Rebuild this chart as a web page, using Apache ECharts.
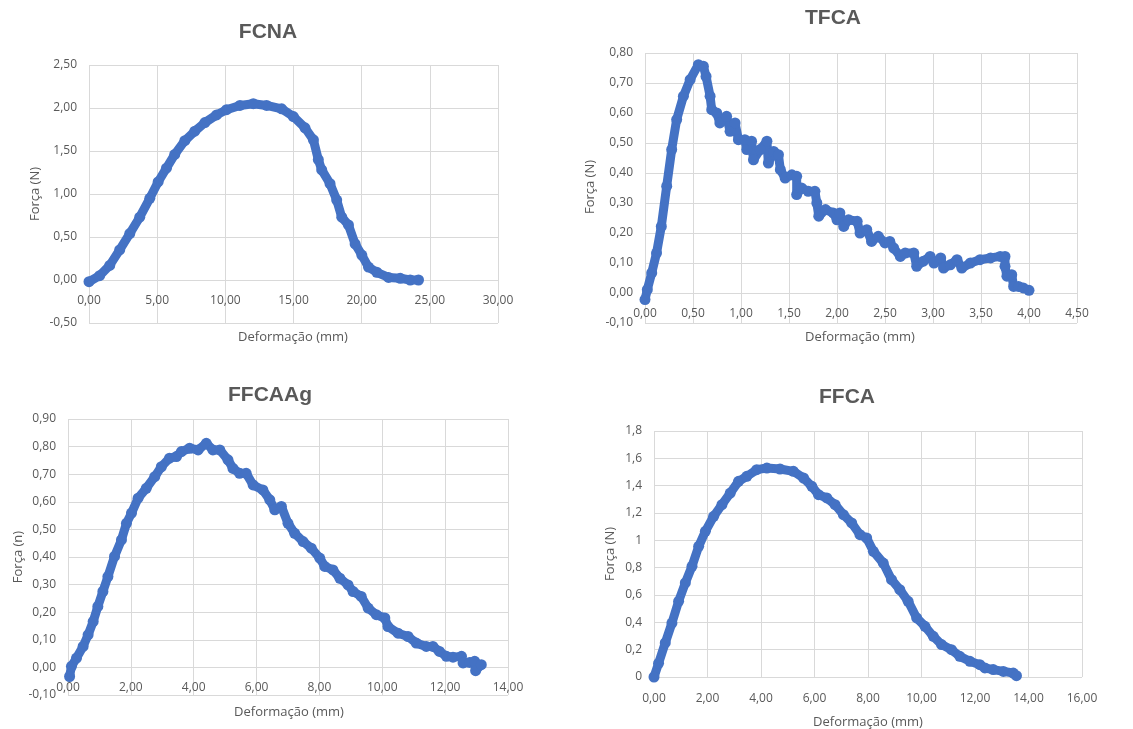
<!DOCTYPE html>
<html>
<head>
<meta charset="utf-8">
<script src="https://cdn.jsdelivr.net/npm/echarts@6/dist/echarts.min.js"></script>
<style>
  html, body { margin: 0; padding: 0; background: #fff; }
  #main { width: 1133px; height: 729px; }
</style>
</head>
<body>
<div id="main"></div>
<script>
// FCNA
var fcnaX = [0, 0.78, 1.52, 2.25, 2.99, 3.72, 4.46, 5.07, 5.68, 6.29, 7.03, 7.76, 8.5, 9.36, 10.09, 11.07, 12.05, 13.03, 14.13, 14.99, 15.84, 16.46, 16.82, 17.07, 17.68, 18.17, 18.54, 19.03, 19.52, 20.01, 20.5, 21.11, 21.97, 22.83, 23.56, 24.17];
var fcnaY = [-0.02, 0.05, 0.17, 0.35, 0.54, 0.73, 0.95, 1.14, 1.3, 1.46, 1.62, 1.73, 1.83, 1.92, 1.98, 2.03, 2.05, 2.03, 1.99, 1.9, 1.77, 1.63, 1.4, 1.28, 1.12, 0.93, 0.73, 0.64, 0.42, 0.29, 0.15, 0.09, 0.03, 0.02, 0, 0];

// TFCA
var tfcaX = [0, 0.024, 0.07, 0.12, 0.17, 0.226, 0.278, 0.33, 0.4, 0.47, 0.556, 0.608, 0.636, 0.678, 0.695, 0.747, 0.78, 0.85, 0.886, 0.938, 0.973, 1.04, 1.06, 1.11, 1.13, 1.2, 1.27, 1.285, 1.34, 1.39, 1.41, 1.46, 1.53, 1.58, 1.58, 1.63, 1.7, 1.77, 1.79, 1.81, 1.88, 1.96, 2.0, 2.03, 2.07, 2.12, 2.21, 2.24, 2.31, 2.36, 2.43, 2.5, 2.55, 2.59, 2.66, 2.71, 2.8, 2.83, 2.9, 2.97, 3.01, 3.08, 3.11, 3.18, 3.25, 3.3, 3.39, 3.49, 3.6, 3.7, 3.75, 3.75, 3.77, 3.82, 3.84, 3.89, 3.94, 4.0];
var tfcaY = [-0.022, 0.011, 0.067, 0.133, 0.222, 0.356, 0.478, 0.578, 0.656, 0.711, 0.761, 0.756, 0.722, 0.656, 0.611, 0.6, 0.567, 0.589, 0.539, 0.567, 0.511, 0.511, 0.478, 0.506, 0.444, 0.478, 0.506, 0.433, 0.472, 0.461, 0.411, 0.383, 0.394, 0.389, 0.328, 0.35, 0.339, 0.339, 0.3, 0.256, 0.278, 0.267, 0.244, 0.267, 0.222, 0.244, 0.239, 0.2, 0.211, 0.172, 0.189, 0.167, 0.172, 0.15, 0.122, 0.133, 0.133, 0.089, 0.106, 0.122, 0.1, 0.117, 0.083, 0.094, 0.111, 0.083, 0.1, 0.111, 0.117, 0.122, 0.122, 0.089, 0.056, 0.061, 0.022, 0.022, 0.017, 0.009];

// FFCAAg
var ffcaagX = [0.05, 0.11, 0.27, 0.48, 0.64, 0.8, 0.95, 1.11, 1.27, 1.48, 1.7, 1.86, 2.02, 2.23, 2.49, 2.76, 2.97, 3.23, 3.45, 3.61, 3.87, 4.14, 4.4, 4.61, 4.83, 5.09, 5.25, 5.46, 5.67, 5.89, 6.2, 6.42, 6.58, 6.79, 7.0, 7.21, 7.48, 7.74, 8.01, 8.17, 8.43, 8.65, 8.91, 9.07, 9.33, 9.55, 9.81, 10.08, 10.18, 10.5, 10.82, 11.08, 11.4, 11.61, 11.82, 12.04, 12.25, 12.52, 12.57, 12.78, 12.94, 12.97, 13.15];
var ffcaagY = [-0.033, 0.004, 0.034, 0.076, 0.118, 0.166, 0.221, 0.275, 0.329, 0.402, 0.462, 0.522, 0.559, 0.613, 0.649, 0.691, 0.727, 0.758, 0.764, 0.782, 0.794, 0.788, 0.812, 0.788, 0.788, 0.752, 0.721, 0.703, 0.703, 0.661, 0.643, 0.607, 0.571, 0.583, 0.522, 0.486, 0.456, 0.432, 0.396, 0.366, 0.353, 0.323, 0.299, 0.275, 0.257, 0.215, 0.191, 0.179, 0.148, 0.124, 0.112, 0.088, 0.076, 0.076, 0.058, 0.04, 0.037, 0.04, 0.016, 0.018, 0.022, -0.012, 0.01];

// FFCA
var ffcaX = [0, 0.17, 0.42, 0.67, 0.92, 1.17, 1.42, 1.67, 1.92, 2.23, 2.54, 2.85, 3.16, 3.47, 3.84, 4.22, 4.71, 5.21, 5.59, 5.9, 6.15, 6.46, 6.77, 7.08, 7.39, 7.7, 7.95, 8.2, 8.57, 8.88, 9.19, 9.5, 9.82, 10.13, 10.44, 10.75, 11.12, 11.43, 11.81, 12.18, 12.37, 12.68, 13.06, 13.43, 13.55];
var ffcaY = [0, 0.1, 0.249, 0.395, 0.554, 0.688, 0.81, 0.956, 1.066, 1.176, 1.261, 1.346, 1.432, 1.468, 1.517, 1.529, 1.522, 1.505, 1.456, 1.395, 1.334, 1.31, 1.261, 1.188, 1.127, 1.041, 1.017, 0.92, 0.834, 0.712, 0.639, 0.554, 0.432, 0.371, 0.298, 0.237, 0.2, 0.151, 0.115, 0.09, 0.066, 0.054, 0.041, 0.029, 0.01];

var titles = ['FCNA', 'TFCA', 'FFCAAg', 'FFCA'];
var yNames = ['Força (N)', 'Força (N)', 'Força (n)', 'Força (N)'];
var xName = 'Deformação (mm)';

var blue = '#4472C4';
var txt = '#595959';
var gridColor = '#d9d9d9';
var font = 'Open Sans';

function pairs(xs, ys) {
  var out = [];
  for (var i = 0; i < xs.length; i++) {
    out.push([xs[i], ys[i]]);
  }
  return out;
}

function fixed(d) {
  return function (v) { return v.toFixed(d).replace('.', ','); };
}

// Excel "General" number format
function general(v) {
  return String(+v.toFixed(1)).replace('.', ',');
}

// x labels sit under the zero line, like Excel; margin is counted from the grid bottom
function xAxis(idx, max, interval, margin) {
  return {
    type: 'value', gridIndex: idx, min: 0, max: max, interval: interval,
    axisLine: { show: false, onZero: false },
    axisTick: { show: false },
    axisLabel: { color: txt, fontFamily: font, fontSize: 12, margin: margin, formatter: fixed(2) },
    splitLine: { show: true, lineStyle: { color: gridColor } }
  };
}

function yAxis(idx, min, max, interval, fmt) {
  return {
    type: 'value', gridIndex: idx, min: min, max: max, interval: interval,
    axisLine: { show: false, onZero: false },
    axisTick: { show: false },
    axisLabel: { color: txt, fontFamily: font, fontSize: 12, margin: 12, formatter: fmt },
    splitLine: { show: true, lineStyle: { color: gridColor } }
  };
}

function series(idx, data) {
  return {
    type: 'line', xAxisIndex: idx, yAxisIndex: idx, data: data,
    symbol: 'circle', symbolSize: 11,
    itemStyle: { color: blue },
    lineStyle: { color: blue, width: 9 },
    animation: false
  };
}

function label(text, x, y, size, bold, rot) {
  return {
    type: 'text', x: x, y: y, rotation: rot || 0,
    style: {
      text: text, fill: txt, fontSize: size,
      fontFamily: bold ? 'Liberation Sans' : font,
      fontWeight: bold ? 'bold' : 'normal',
      textAlign: 'center', textVerticalAlign: 'middle'
    }
  };
}

var chart = echarts.init(document.getElementById('main'));

var option = {
  backgroundColor: '#fff',
  animation: false,
  grid: [
    { left: 89, top: 65, width: 409, height: 258 },
    { left: 645, top: 53, width: 432, height: 270 },
    { left: 68, top: 419, width: 440, height: 276 },
    { left: 654, top: 431, width: 428, height: 246 }
  ],
  xAxis: [
    xAxis(0, 30, 5, -28),
    xAxis(1, 4.5, 0.5, -15),
    xAxis(2, 14, 2, -13),
    xAxis(3, 16, 2, 16)
  ],
  yAxis: [
    yAxis(0, -0.5, 2.5, 0.5, fixed(2)),
    yAxis(1, -0.1, 0.8, 0.1, fixed(2)),
    yAxis(2, -0.1, 0.9, 0.1, fixed(2)),
    yAxis(3, 0, 1.8, 0.2, general)
  ],
  series: [
    series(0, pairs(fcnaX, fcnaY)),
    series(1, pairs(tfcaX, tfcaY)),
    series(2, pairs(ffcaagX, ffcaagY)),
    series(3, pairs(ffcaX, ffcaY))
  ],
  graphic: [
    label(titles[0], 268, 32, 21, true),
    label(titles[1], 833, 18, 21, true),
    label(titles[2], 270, 395, 21, true),
    label(titles[3], 847, 397, 21, true),
    label(xName, 293, 337, 13),
    label(xName, 860, 337, 13),
    label(xName, 289, 712, 13),
    label(xName, 868, 722, 13),
    label(yNames[0], 35, 194, 13, false, Math.PI / 2),
    label(yNames[1], 590, 187, 13, false, Math.PI / 2),
    label(yNames[2], 18, 557, 13, false, Math.PI / 2),
    label(yNames[3], 610, 554, 13, false, Math.PI / 2)
  ]
};

chart.setOption(option);
</script>
</body>
</html>
